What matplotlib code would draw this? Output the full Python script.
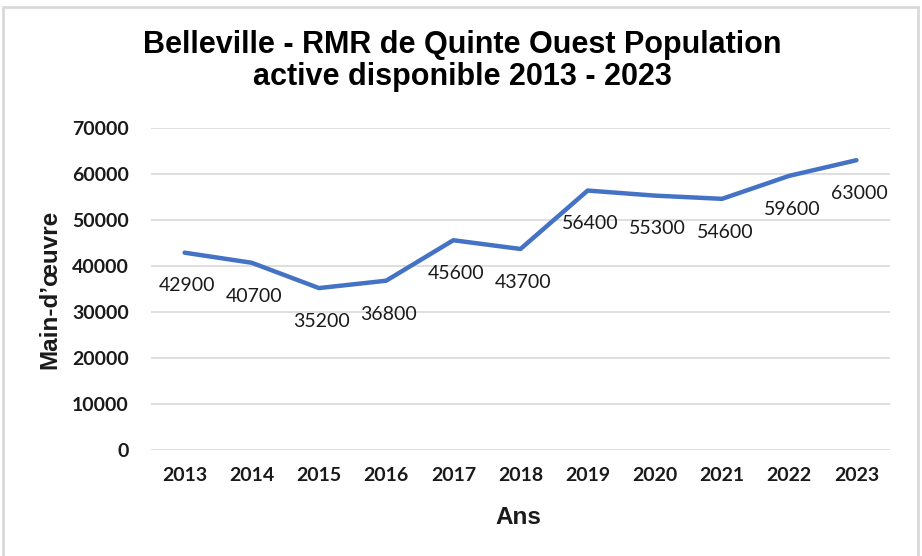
import matplotlib
matplotlib.use("Agg")
import matplotlib.pyplot as plt
from matplotlib.patches import Rectangle

years = ["2013", "2014", "2015", "2016", "2017", "2018", "2019", "2020", "2021", "2022", "2023"]
values = [42900, 40700, 35200, 36800, 45600, 43700, 56400, 55300, 54600, 59600, 63000]
yticks = [0, 10000, 20000, 30000, 40000, 50000, 60000, 70000]

W, H = 922, 556
fig = plt.figure(figsize=(W / 100, H / 100), dpi=100)
fig.patch.set_facecolor("white")

# outer frame
fig.patches.append(Rectangle((3 / W, -0.02), (918 - 3) / W, 1 - 7 / H + 0.02,
                             transform=fig.transFigure, fill=False,
                             edgecolor="#d9d9d9", linewidth=2))

ax = fig.add_axes([151 / W, 1 - 450 / H, (890 - 151) / W, (450 - 128) / H])
x = list(range(len(years)))
ax.plot(x, values, color="#4472C4", linewidth=3.2, solid_joinstyle="round", solid_capstyle="round")
for xi, v in zip(x, values):
    ax.annotate(str(v), (xi, v), xytext=(2, -24), textcoords="offset points",
                ha="center", va="center", fontsize=14, family="Lato", color="#1a1a1a")

ax.set_xlim(-0.5, len(years) - 0.5)
ax.set_ylim(0, 70000)
ax.set_yticks(yticks)
ax.set_yticklabels([str(t) for t in yticks])
ax.set_xticks(x)
ax.set_xticklabels(years)
for s in ax.spines.values():
    s.set_visible(False)
ax.tick_params(axis="both", length=0, labelsize=14, colors="#1a1a1a")
ax.tick_params(axis="y", pad=16)
ax.tick_params(axis="x", pad=12)
for lab in ax.get_xticklabels() + ax.get_yticklabels():
    lab.set_fontweight("bold")
    lab.set_family("Lato")
ax.grid(axis="y", color="#d9d9d9", linewidth=1.2)
ax.set_axisbelow(True)

fig.text(462 / W, 1 - 61 / H, "Belleville - RMR de Quinte Ouest Population\nactive disponible 2013 - 2023",
         ha="center", va="center", fontsize=22, fontweight="bold", family="Liberation Sans",
         linespacing=1.12, color="black")
fig.text(50 / W, 1 - 289 / H, "Main-d\u2019œuvre", rotation=90, ha="center", va="center",
         fontsize=17.5, fontweight="bold", family="Liberation Sans", color="#1a1a1a")
fig.text(518 / W, 1 - 517 / H, "Ans", ha="center", va="center",
         fontsize=17.5, fontweight="bold", family="Liberation Sans", color="#1a1a1a")

fig.savefig("out.png", dpi=100)
